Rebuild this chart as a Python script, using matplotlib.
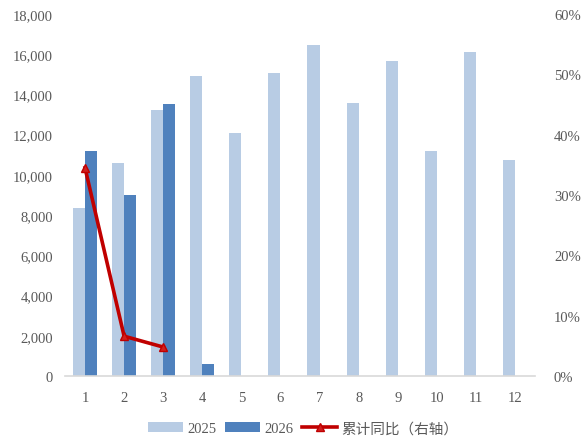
import matplotlib.pyplot as plt
import numpy as np
from matplotlib.ticker import FuncFormatter

plt.rcParams['font.family'] = ['Liberation Serif', 'Noto Sans CJK SC']

months = [1, 2, 3, 4, 5, 6, 7, 8, 9, 10, 11, 12]
sales_2025 = [8350, 10600, 13230, 14900, 12080, 15060, 16450, 13580, 15670, 11200, 16120, 10760]
months_2026 = [1, 2, 3, 4]
sales_2026 = [11180, 8980, 13550, 600]
yoy_months = [1, 2, 3]
yoy_cum = [34.5, 6.6, 4.8]

c_light = '#B8CCE4'
c_dark = '#4F81BD'
c_red = '#C00000'

fig = plt.figure(figsize=(5.81, 4.39), dpi=100)
ax = fig.add_axes([0.1127, 0.1412, 0.8073, 0.8246])
ax2 = ax.twinx()

w = 0.31
x = np.array(months)
ax.bar(x - w / 2, sales_2025, width=w, color=c_light, label='2025', zorder=2)
ax.bar(np.array(months_2026) + w / 2, sales_2026, width=w, color=c_dark, label='2026', zorder=2)

ax2.plot(yoy_months, yoy_cum, color=c_red, lw=2.6, marker='^', ms=6,
         markerfacecolor='#D02020', markeredgecolor='#C00000', label='累计同比（右轴）')

ax.set_xlim(0.5, 12.5)
ax.set_ylim(0, 18000)
ax.set_yticks(range(0, 18001, 2000))
ax.yaxis.set_major_formatter(FuncFormatter(lambda v, p: f'{int(v):,}'))
ax2.set_ylim(0, 60)
ax2.set_yticks(range(0, 61, 10))
ax2.yaxis.set_major_formatter(FuncFormatter(lambda v, p: f'{int(v)}%'))
ax.set_xticks(months)

for a in (ax, ax2):
    for s in ('top', 'left', 'right', 'bottom'):
        a.spines[s].set_visible(False)
    a.tick_params(length=0, labelsize=10.5, colors='#595959')
ax.spines['bottom'].set_visible(True)
ax.spines['bottom'].set_color('#D9D9D9')
ax.spines['bottom'].set_linewidth(1.2)
ax.tick_params(axis='y', pad=9)
ax.tick_params(axis='x', pad=11)
ax2.tick_params(axis='y', pad=14)

h1, l1 = ax.get_legend_handles_labels()
h2, l2 = ax2.get_legend_handles_labels()
leg = fig.legend(h1 + h2, l1 + l2, loc='center', bbox_to_anchor=(0.522, 0.022), ncol=3,
                 frameon=False, fontsize=10.5, handlelength=2.4, handleheight=0.7,
                 columnspacing=0.6, handletextpad=0.3, labelcolor='#595959')

fig.savefig('out.png', dpi=100)
